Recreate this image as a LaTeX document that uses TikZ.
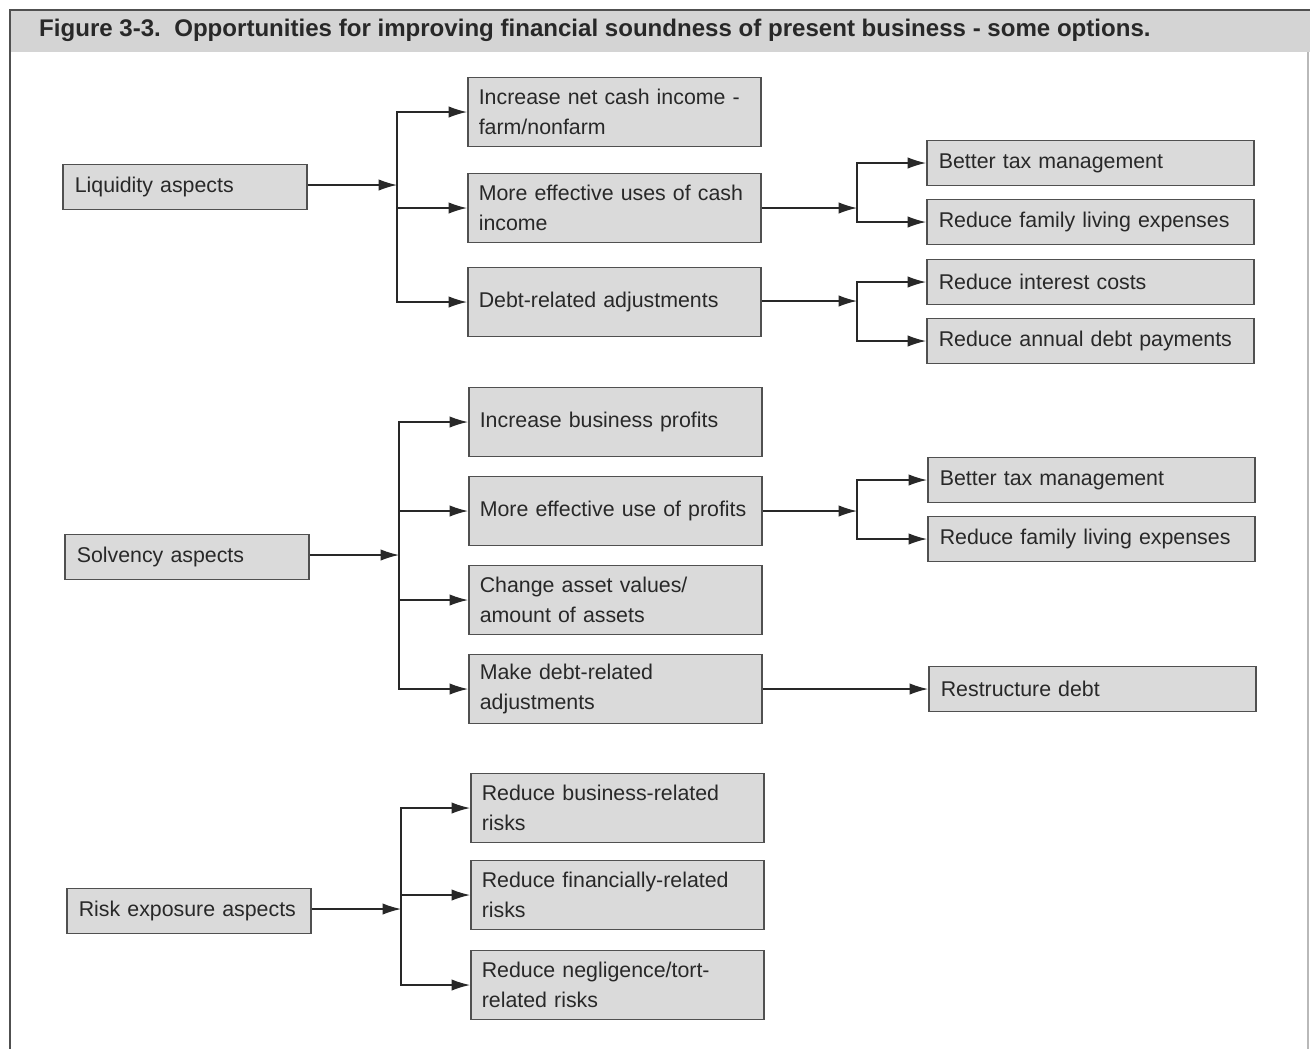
\documentclass[tikz,border=0pt]{standalone}
\usepackage{fontspec}
\setmainfont{Liberation Sans}
\usetikzlibrary{arrows.meta}
\definecolor{boxgray}{RGB}{218,218,218}
\definecolor{edgegray}{RGB}{80,80,80}
\definecolor{headgray}{RGB}{212,212,212}
\definecolor{inkgray}{RGB}{40,40,40}
\tikzstyle{box} = [draw=edgegray, line width=0.9pt, fill=boxgray, text=inkgray, anchor=west, align=left, font=\fontsize{12.15}{17}\selectfont]
\tikzstyle{aspect} = [box, text width=4.4cm, inner xsep=0.24cm, minimum height=0.9cm]
\tikzstyle{option} = [box, text width=5.42cm, inner xsep=0.22cm, minimum height=1.38cm]
\tikzstyle{detail} = [box, text width=6.06cm, inner xsep=0.24cm, minimum height=0.9cm]
\tikzstyle{link} = [draw=inkgray, line width=0.75pt, -{Latex[length=10.5pt,width=6.5pt]}]

\begin{document}
\begin{tikzpicture}[x=0.02cm, y=-0.02cm]
	\useasboundingbox (0,0) rectangle (1310,1049);
	\fill[headgray] (10,10) rectangle (1310,52); % title band
	\draw[edgegray, line width=1pt] (1310,10) -- (10,10) -- (10,1049);
	\draw[edgegray!40, line width=0.8pt] (1308,52) -- (1308,1049);
	\node[anchor=west, text=inkgray, font=\fontsize{13.7}{16}\selectfont\bfseries] (title) at (33,30) {Figure 3-3.\ \ Opportunities for improving financial soundness of present business - some options.};

	\node[aspect] (liquidity) at (62,187) {Liquidity aspects};
	\node[aspect] (solvency) at (64,557) {Solvency aspects};
	\node[aspect] (risk) at (66,911) {Risk exposure aspects};

	\node[option] (netCash) at (467,112) {Increase net cash income -\\farm/nonfarm};
	\node[option] (cashUse) at (467,208) {More effective uses of cash\\income};
	\node[option] (debtAdj) at (467,302) {Debt-related adjustments};
	\node[option] (profits) at (468,422) {Increase business profits};
	\node[option] (profitUse) at (468,511) {More effective use of profits};
	\node[option] (assets) at (468,600) {Change asset values/\\amount of assets};
	\node[option] (makeDebt) at (468,689) {Make debt-related\\adjustments};
	\node[option] (bizRisk) at (470,808) {Reduce business-related\\risks};
	\node[option] (finRisk) at (470,895) {Reduce financially-related\\risks};
	\node[option] (tortRisk) at (470,985) {Reduce negligence/tort-\\related risks};

	\node[detail] (taxA) at (926,163) {Better tax management};
	\node[detail] (familyA) at (926,222) {Reduce family living expenses};
	\node[detail] (interest) at (926,282) {Reduce interest costs};
	\node[detail] (payments) at (926,341) {Reduce annual debt payments};
	\node[detail] (taxB) at (927,480) {Better tax management};
	\node[detail] (familyB) at (927,539) {Reduce family living expenses};
	\node[detail] (restructure) at (928,689) {Restructure debt};

	\coordinate (liqFork) at (397,185);
	\coordinate (cashFork) at (857,208);
	\coordinate (debtFork) at (857,301);
	\coordinate (solFork) at (399,555);
	\coordinate (profitFork) at (857,511);
	\coordinate (riskFork) at (401,909);

	\path[link] (liquidity.east |- liqFork) -- (liqFork);
	\foreach \target in {netCash,cashUse,debtAdj}
		\path[link] (liqFork) |- (\target.west);
	\path[link] (cashUse.east) -- (cashFork);
	\path[link] (cashFork) |- (taxA.west);
	\path[link] (cashFork) |- (familyA.west);
	\path[link] (debtAdj.east |- debtFork) -- (debtFork);
	\path[link] (debtFork) |- (interest.west);
	\path[link] (debtFork) |- (payments.west);

	\path[link] (solvency.east |- solFork) -- (solFork);
	\foreach \target in {profits,profitUse,assets,makeDebt}
		\path[link] (solFork) |- (\target.west);
	\path[link] (profitUse.east) -- (profitFork);
	\path[link] (profitFork) |- (taxB.west);
	\path[link] (profitFork) |- (familyB.west);
	\path[link] (makeDebt.east) -- (restructure.west);

	\path[link] (risk.east |- riskFork) -- (riskFork);
	\foreach \target in {bizRisk,finRisk,tortRisk}
		\path[link] (riskFork) |- (\target.west);
\end{tikzpicture}
\end{document}
